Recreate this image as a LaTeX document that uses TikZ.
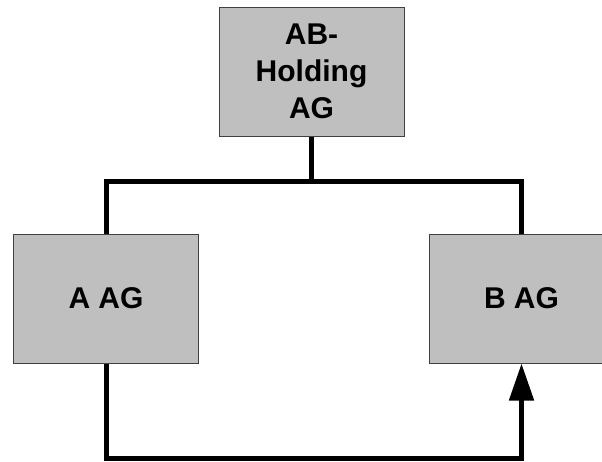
\documentclass[tikz,border=0pt]{standalone}
\usepackage{fontspec}
\setmainfont{Liberation Sans}
\usetikzlibrary{arrows.meta}
\begin{document}
\begin{tikzpicture}[x=1pt,y=-1pt,
  company/.style={draw=black!75,line width=1pt,fill=black!25,minimum width=185pt,minimum height=129pt,inner sep=0pt,align=center,font=\bfseries\fontsize{30}{37}\selectfont},
  link/.style={line width=5pt,line join=miter}]
\useasboundingbox (0,0) rectangle (602,461);
\node[company] (top) at (311.5,71.5) {AB-\\Holding\\AG};
\node[company] (A) at (106,298.5) {A AG};
\node[company] (B) at (521.5,298.5) {B AG};
\draw[link] (top.south) -- ++(0,45) -| (A.north);
\draw[link] (top.south) -- ++(0,45) -| (B.north);
\draw[link,-{Triangle[length=37pt,width=24pt]}] (A.south) -- ++(0,95) -| (B.south);
\end{tikzpicture}
\end{document}
